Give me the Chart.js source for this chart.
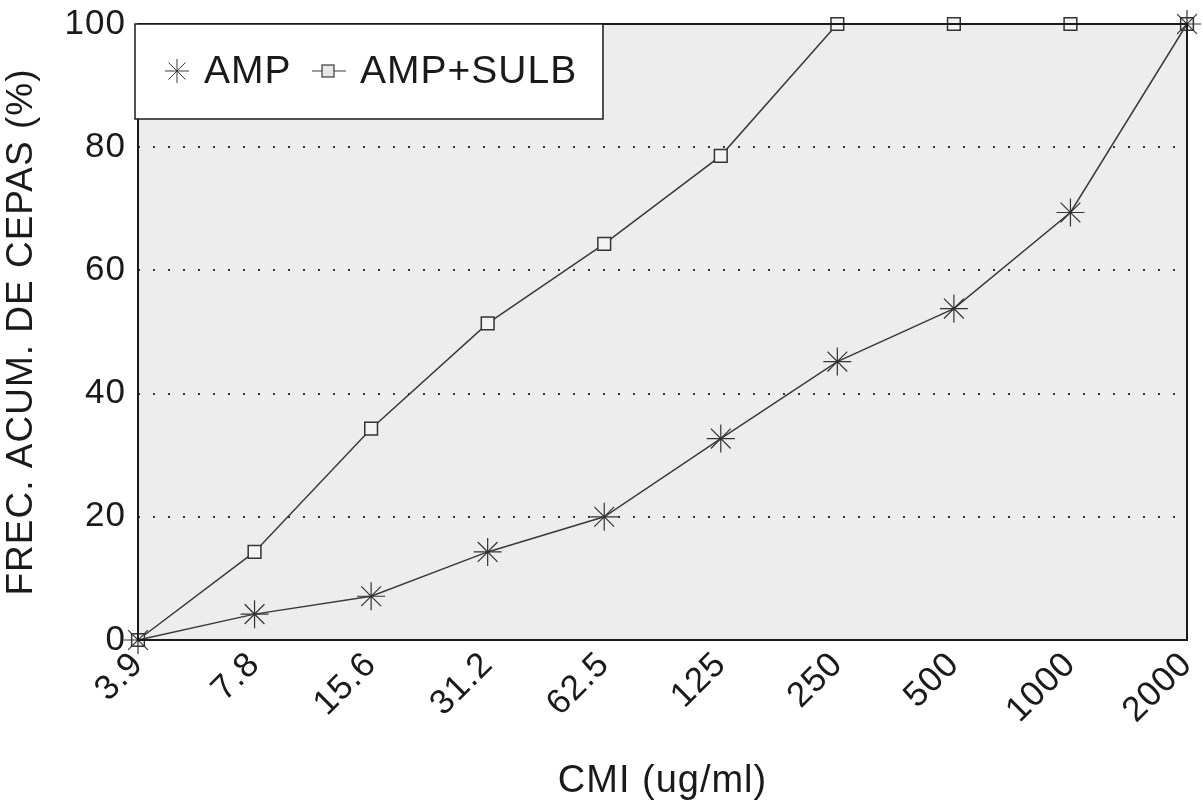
<!DOCTYPE html>
<html>
<head>
<meta charset="utf-8">
<script src="https://cdn.jsdelivr.net/npm/chart.js@4/dist/chart.umd.min.js"></script>
<style>
html,body{margin:0;padding:0;background:#fff;}
#wrap{width:1203px;height:804px;}
</style>
</head>
<body>
<div id="wrap"><canvas id="c" width="1203" height="804"></canvas></div>
<script>
const categories = ["3.9","7.8","15.6","31.2","62.5","125","250","500","1000","2000"];
const ampValues = [0, 4.2, 7.1, 14.3, 20.0, 32.7, 45.2, 53.8, 69.4, 100];
const ampSulbValues = [0, 14.3, 34.3, 51.4, 64.3, 78.6, 100, 100, 100, 100];
const seriesLabels = ["AMP", "AMP+SULB"];
const yTitle = "FREC. ACUM. DE CEPAS (%)";
const xTitle = "CMI (ug/ml)";

const FONT = "'Liberation Sans', Arial, sans-serif";
const INK = '#1a1a1a';
const LINE = '#3a3a3a';
const SPACING = '1px';

function spacing(ctx, v) { try { ctx.letterSpacing = v; } catch (e) {} }

const bgPlugin = {
  id: 'bg',
  beforeUpdate(chart) { spacing(chart.ctx, SPACING); },
  beforeDraw(chart) {
    const {ctx, chartArea: a} = chart;
    spacing(ctx, SPACING);
    ctx.save();
    ctx.fillStyle = '#ededed';
    ctx.fillRect(a.left, a.top, a.right - a.left, a.bottom - a.top);
    ctx.restore();
  },
  afterDatasetsDraw(chart) {
    const {ctx, chartArea: a} = chart;
    ctx.save();
    ctx.strokeStyle = INK;
    ctx.lineWidth = 2;
    ctx.strokeRect(a.left, a.top, a.right - a.left, a.bottom - a.top);
    // legend box
    const bx = 135, by = a.top, bw = 468, bh = 95;
    ctx.fillStyle = '#ffffff';
    ctx.fillRect(bx, by, bw, bh);
    ctx.lineWidth = 1.5;
    ctx.strokeRect(bx, by, bw, bh);
    ctx.font = '39px ' + FONT;
    ctx.fillStyle = INK;
    ctx.textBaseline = 'middle';
    const cy = by + 47;
    const ds0 = chart.data.datasets[0];
    ctx.strokeStyle = LINE;
    ctx.lineWidth = 1;
    Chart.helpers.drawPoint(ctx, {pointStyle: 'star', radius: 12, borderWidth: 1}, 177, cy);
    ctx.fillText(ds0.label, 204, cy + 1);
    const ds1 = chart.data.datasets[1];
    const mx = 328;
    ctx.beginPath();
    ctx.moveTo(mx - 16, cy); ctx.lineTo(mx + 18, cy);
    ctx.lineWidth = 1.2; ctx.strokeStyle = LINE; ctx.stroke();
    ctx.fillStyle = '#e6e6e6';
    ctx.fillRect(mx - 6, cy - 6, 12, 12);
    ctx.strokeRect(mx - 6, cy - 6, 12, 12);
    ctx.fillStyle = INK;
    ctx.fillText(ds1.label, 360, cy + 1);
    ctx.restore();
  }
};

new Chart(document.getElementById('c'), {
  type: 'line',
  data: {
    labels: categories,
    datasets: [
      {
        label: seriesLabels[0],
        data: ampValues,
        borderColor: LINE,
        borderWidth: 1.5,
        pointStyle: 'star',
        pointRadius: 14,
        pointBorderColor: '#333',
        pointBorderWidth: 1.2,
        pointBackgroundColor: 'transparent',
        tension: 0,
        clip: false
      },
      {
        label: seriesLabels[1],
        data: ampSulbValues,
        borderColor: LINE,
        borderWidth: 1.5,
        pointStyle: 'rect',
        pointRadius: 9,
        pointBorderColor: '#333',
        pointBorderWidth: 1.5,
        pointBackgroundColor: '#f4f4f4',
        tension: 0,
        clip: false
      }
    ]
  },
  options: {
    responsive: false,
    animation: false,
    devicePixelRatio: 1,
    layout: { padding: { top: 24, right: 16, left: 0, bottom: 0 } },
    plugins: { legend: { display: false }, tooltip: { enabled: false } },
    scales: {
      x: {
        type: 'category',
        offset: false,
        grid: { display: false, drawTicks: false },
        border: { display: false },
        ticks: {
          color: INK,
          font: { family: FONT, size: 35 },
          minRotation: 45,
          maxRotation: 45,
          padding: 4,
          autoSkip: false
        },
        title: {
          display: true,
          text: xTitle,
          color: INK,
          font: { family: FONT, size: 38 },
          padding: { top: 14, bottom: 0 }
        },
        afterFit(s) { s.height = 164; s.paddingLeft = 0; s.paddingRight = 0; }
      },
      y: {
        min: 0,
        max: 100,
        ticks: {
          stepSize: 20,
          color: INK,
          font: { family: FONT, size: 35 },
          padding: 12
        },
        grid: {
          drawTicks: false,
          color: (c) => (c.tick && (c.tick.value === 0 || c.tick.value === 100)) ? 'rgba(0,0,0,0)' : '#333',
          lineWidth: 2
        },
        border: { display: false, dash: [2, 13] },
        title: {
          display: true,
          text: yTitle,
          color: INK,
          font: { family: FONT, size: 37 },
          padding: { top: 0, bottom: 10 }
        },
        afterFit(s) { s.width = 138; s.paddingTop = 0; s.paddingBottom = 0; }
      }
    }
  },
  plugins: [bgPlugin]
});
</script>
</body>
</html>
